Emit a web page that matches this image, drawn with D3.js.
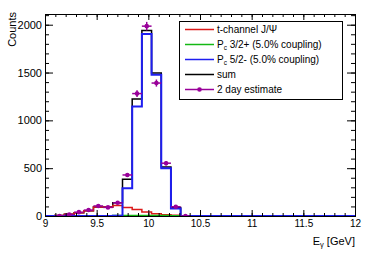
<!DOCTYPE html>
<html>
<head>
<meta charset="utf-8">
<script src="https://cdn.jsdelivr.net/npm/d3@7"></script>
<style>
  body { margin: 0; background: #fff; }
  text { font-family: "Liberation Sans", Arial, sans-serif; fill: #000; }
</style>
</head>
<body>
<svg id="chart" width="374" height="255"></svg>
<script>
// 32 bins of E_gamma between 9 and 12 GeV
var xMin = 9, xMax = 12, nBins = 32;
var binW = (xMax - xMin) / nBins;

// bin contents (first bins, the rest are zero)
var tChannel = [2, 5, 18, 35, 55, 93, 94, 110, 90, 68, 42, 24, 14, 8, 2];
var pc32 =     [0, 0, 0, 0, 0, 0, 0, 6, 6, 6, 5, 5, 4, 3, 0];
var pc52 =     [0, 0, 0, 0, 0, 0, 0, 2, 290, 1145, 1902, 1476, 500, 78, 0];
var sum =      [2, 5, 18, 35, 55, 93, 94, 138, 384, 1222, 1940, 1494, 512, 88, 2];
var estimate = [null, 0, 15, 40, 62, 105, 90, 138, 429, 1280, 1985, 1390, 552, 97, 0];

var xTicks = [9, 9.5, 10, 10.5, 11, 11.5, 12];
var yTicks = [0, 500, 1000, 1500, 2000];

var legendLabels = ["t-channel J/\u03a8", "P|c| 3/2+ (5.0% coupling)", "P|c| 5/2- (5.0% coupling)", "sum", "2 day estimate"];

var svg = d3.select("#chart"),
    margin = {top: 14, right: 19, bottom: 39, left: 45},
    width = +svg.attr("width") - margin.left - margin.right,
    height = +svg.attr("height") - margin.top - margin.bottom,
    g = svg.append("g").attr("transform", "translate(" + margin.left + "," + margin.top + ")");

var x = d3.scaleLinear().domain([xMin, xMax]).range([0, width]);
var y = d3.scaleLinear().domain([0, 2112]).range([height, 0]);

function full(arr) {
  var out = [];
  for (var i = 0; i < nBins; i++) out.push(i < arr.length ? arr[i] : 0);
  return out;
}

var line = d3.line()
  .x(function(d) { return x(d[0]); })
  .y(function(d) { return y(d[1]); });

function steps(arr) {
  var pts = [];
  full(arr).forEach(function(v, i) {
    pts.push([xMin + i * binW, v]);
    pts.push([xMin + (i + 1) * binW, v]);
  });
  return pts;
}

g.append("clipPath").attr("id", "clip")
  .append("rect").attr("x", 0).attr("y", 0).attr("width", width).attr("height", height);

var plot = g.append("g").attr("clip-path", "url(#clip)");

var hists = [
  {data: sum, color: "#000000", w: 1.5},
  {data: tChannel, color: "#dc1a1a", w: 1.5},
  {data: pc32, color: "#14b814", w: 1.5},
  {data: pc52, color: "#1e1ef0", w: 2}
];

hists.forEach(function(h) {
  plot.append("path")
    .datum(steps(h.data))
    .attr("fill", "none")
    .attr("stroke", h.color)
    .attr("stroke-width", h.w)
    .attr("d", line);
});

// data points with error bars
var dataColor = "#990099";
var pts = estimate.map(function(v, i) { return {c: xMin + (i + 0.5) * binW, v: v}; })
  .filter(function(d) { return d.v !== null; });

var pg = plot.selectAll(".pt").data(pts).enter().append("g").attr("class", "pt");
pg.append("line")
  .attr("x1", function(d) { return x(d.c - binW / 2); })
  .attr("x2", function(d) { return x(d.c + binW / 2); })
  .attr("y1", function(d) { return y(d.v); })
  .attr("y2", function(d) { return y(d.v); })
  .attr("stroke", dataColor).attr("stroke-width", 1.5);
pg.append("line")
  .attr("x1", function(d) { return x(d.c); })
  .attr("x2", function(d) { return x(d.c); })
  .attr("y1", function(d) { return y(d.v + Math.sqrt(d.v)); })
  .attr("y2", function(d) { return y(Math.max(0, d.v - Math.sqrt(d.v))); })
  .attr("stroke", dataColor).attr("stroke-width", 1.5);
pg.append("circle")
  .attr("cx", function(d) { return x(d.c); })
  .attr("cy", function(d) { return y(d.v); })
  .attr("r", 2.3)
  .attr("fill", dataColor);

// axes, ROOT style ticks pointing inwards
var xMinor = d3.range(0, 31).map(function(i) { return xMin + i * 0.1; });
var yMinor = d3.range(0, 22).map(function(i) { return i * 100; });

g.append("g").attr("transform", "translate(0," + height + ")")
  .call(d3.axisBottom(x).tickValues(xMinor).tickSize(-3).tickFormat(""));
g.append("g").attr("transform", "translate(0," + height + ")")
  .call(d3.axisBottom(x).tickValues(xTicks).tickSize(-6).tickPadding(4).tickFormat(d3.format("")))
  .selectAll("text").style("font-size", "10px");
g.append("g")
  .call(d3.axisTop(x).tickValues(xMinor).tickSize(-3).tickFormat(""));
g.append("g")
  .call(d3.axisTop(x).tickValues(xTicks).tickSize(-6).tickFormat(""));

g.append("g")
  .call(d3.axisLeft(y).tickValues(yMinor).tickSize(-4).tickFormat(""));
g.append("g")
  .call(d3.axisLeft(y).tickValues(yTicks).tickSize(-8).tickPadding(3).tickFormat(d3.format("")))
  .selectAll("text").style("font-size", "11px");
g.append("g").attr("transform", "translate(" + width + ",0)")
  .call(d3.axisRight(y).tickValues(yMinor).tickSize(-4).tickFormat(""));
g.append("g").attr("transform", "translate(" + width + ",0)")
  .call(d3.axisRight(y).tickValues(yTicks).tickSize(-8).tickFormat(""));

g.selectAll(".domain").attr("stroke", "#000");
g.selectAll(".tick line").attr("stroke", "#000");
g.selectAll(".tick text").attr("fill", "#000").style("font-family", "Liberation Sans, Arial, sans-serif");

// axis titles
svg.append("text")
  .attr("transform", "translate(16," + (margin.top - 2) + ") rotate(-90)")
  .attr("text-anchor", "end")
  .style("font-size", "11px")
  .text("Counts");

var xt = svg.append("text")
  .attr("x", margin.left + width)
  .attr("y", 245)
  .attr("text-anchor", "end")
  .style("font-size", "11px");
xt.append("tspan").text("E");
xt.append("tspan").attr("dy", 2).style("font-size", "7.5px").text("\u03b3");
xt.append("tspan").attr("dy", -2).text(" [GeV]");

// legend
var lg = svg.append("g");
lg.append("rect")
  .attr("x", 179.5).attr("y", 21.5).attr("width", 163).attr("height", 78)
  .attr("fill", "#fff").attr("stroke", "#000").attr("stroke-width", 1);

var legendColors = ["#dc1a1a", "#14b814", "#1e1ef0", "#000000", dataColor];
legendLabels.forEach(function(lab, i) {
  var ly = 29.5 + i * 15;
  lg.append("line")
    .attr("x1", 185).attr("x2", 214).attr("y1", ly).attr("y2", ly)
    .attr("stroke", legendColors[i]).attr("stroke-width", 1.5);
  if (i === 4) {
    lg.append("circle").attr("cx", 199.5).attr("cy", ly).attr("r", 2.3).attr("fill", dataColor);
  }
  var t = lg.append("text").attr("x", 217).attr("y", ly + 3.5).style("font-size", "10px");
  var parts = lab.split("|");
  if (parts.length === 3) {
    t.append("tspan").text(parts[0]);
    t.append("tspan").attr("dy", 2).style("font-size", "6.5px").text(parts[1]);
    t.append("tspan").attr("dy", -2).text(parts[2]);
  } else {
    t.text(lab);
  }
});
</script>
</body>
</html>
